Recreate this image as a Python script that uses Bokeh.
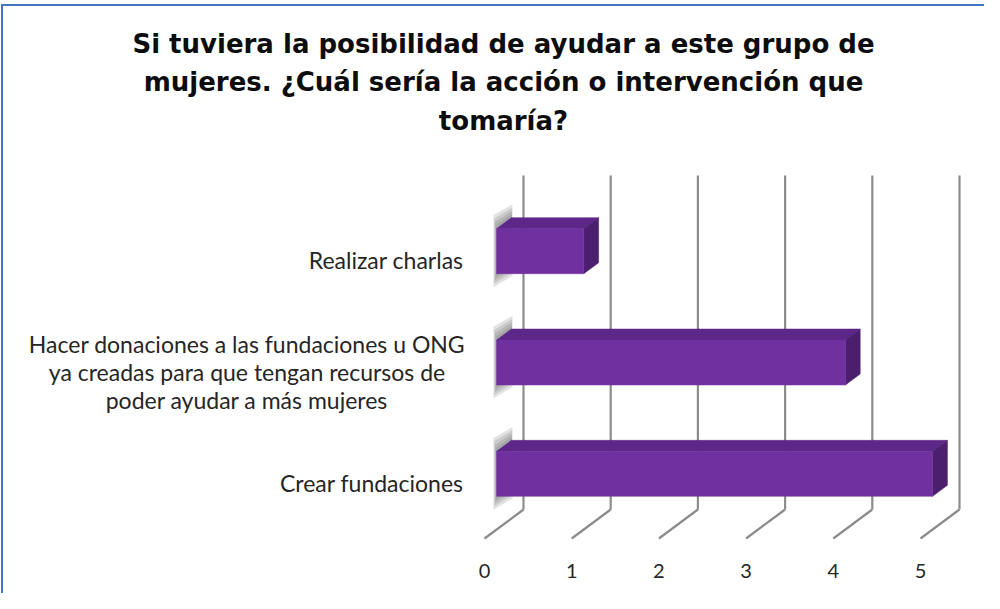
from bokeh.plotting import figure
from bokeh.models import Range1d, FixedTicker
from bokeh.core.properties import value
from bokeh.embed import file_html
from bokeh.resources import INLINE

# ---------------- data ----------------
title_lines = [
    "Si tuviera la posibilidad de ayudar a este grupo de",
    "mujeres. ¿Cuál sería la acción o intervención que",
    "tomaría?",
]
categories = [
    "Crear fundaciones",
    "Hacer donaciones a las fundaciones u ONG\nya creadas para que tengan recursos de\npoder ayudar a más mujeres",
    "Realizar charlas",
]
values = [5, 4, 1]
x_ticks = [0, 1, 2, 3, 4, 5]

# ---------------- layout (canvas pixels) ----------------
W, H = 984, 593
BOTTOM = 36
PX_X0 = 484.0      # canvas x of value 0 on the front plane
PX_UX = 87.2       # px per value unit
PX_Y0 = 538.0      # canvas y of the floor front edge
PX_UY = 111.33     # px per category slot
FRAME_H = H - BOTTOM


def X(px):
    return (px - PX_X0) / PX_UX


def Y(py):
    return (PX_Y0 - py) / PX_UY


DX = 39.0 / PX_UX          # depth offset (data units)
DY = 29.0 / PX_UY
F1, F2 = 0.31, 0.69        # bar front/back depth fractions
HALF = 0.202               # half bar thickness (category units)
n = len(categories)

p = figure(width=W, height=H,
           x_range=Range1d(X(0), X(W)), y_range=Range1d(Y(FRAME_H), Y(0)),
           output_backend="svg", toolbar_location=None,
           min_border_left=0, min_border_right=0, min_border_top=0,
           min_border_bottom=BOTTOM, y_axis_location=None)
p.xgrid.visible = False
p.ygrid.visible = False
p.outline_line_color = None
p.background_fill_color = None
p.border_fill_color = None
# chart border: left and top blue lines (right/bottom lie outside the window)
p.styles = {"background": "linear-gradient(#4472c4, #4472c4) 1px 4px / 2px 100% no-repeat, "
                          "linear-gradient(#4472c4, #4472c4) 1px 4px / 100% 2px no-repeat, #ffffff"}

ax = p.xaxis[0]
ax.ticker = FixedTicker(ticks=x_ticks)
ax.axis_line_color = None
ax.major_tick_line_color = None
ax.minor_tick_line_color = None
ax.major_tick_out = 0
ax.major_tick_in = 0
ax.major_label_standoff = 6
ax.major_label_text_font = "Lato"
ax.major_label_text_font_size = "20px"
ax.major_label_text_color = "#262626"

# back wall gridlines and floor lines
grid_color = "#8c8c8c"
p.segment(x0=[t + DX for t in x_ticks], y0=[DY] * len(x_ticks),
          x1=[t + DX for t in x_ticks], y1=[n + DY] * len(x_ticks),
          line_color=grid_color, line_width=2.2)
p.segment(x0=x_ticks, y0=[0] * len(x_ticks),
          x1=[t + DX for t in x_ticks], y1=[DY] * len(x_ticks),
          line_color=grid_color, line_width=2.2)

# soft shadows at the bar bases
for e in [0.12, 0.09, 0.06, 0.03]:
    sxs, sys = [], []
    for i, v in enumerate(values):
        c = i + 0.5
        xa = F1 * DX - e * 0.3
        xb = F2 * DX + e * 0.1
        sxs.append([xa, xa, xb, xb])
        sys.append([c - HALF + F1 * DY - e, c + HALF + F1 * DY + e,
                    c + HALF + F2 * DY + e, c - HALF + F2 * DY - e])
    p.patches(sxs, sys, fill_color="#5f5f5f", fill_alpha=0.18, line_color=None)

# bars
front_l, front_r, front_b, front_t = [], [], [], []
top_xs, top_ys, side_xs, side_ys = [], [], [], []
for i, v in enumerate(values):
    c = i + 0.5
    yb, yt = c - HALF, c + HALF
    front_l.append(F1 * DX)
    front_r.append(v + F1 * DX)
    front_b.append(yb + F1 * DY)
    front_t.append(yt + F1 * DY)
    top_xs.append([F1 * DX, v + F1 * DX, v + F2 * DX, F2 * DX])
    top_ys.append([yt + F1 * DY, yt + F1 * DY, yt + F2 * DY, yt + F2 * DY])
    side_xs.append([v + F1 * DX, v + F1 * DX, v + F2 * DX, v + F2 * DX])
    side_ys.append([yb + F1 * DY, yt + F1 * DY, yt + F2 * DY, yb + F2 * DY])

p.patches(top_xs, top_ys, fill_color="#5c2788", line_color="#5c2788", line_width=0.5)
p.patches(side_xs, side_ys, fill_color="#4b1f6e", line_color="#4b1f6e", line_width=0.5)
p.quad(left=front_l, right=front_r, bottom=front_b, top=front_t,
       fill_color="#7030a0", line_color="#7030a0", line_width=0.5)

# category labels (front plane)
single = [i for i, c in enumerate(categories) if "\n" not in c]
multi = [i for i, c in enumerate(categories) if "\n" in c]
p.text(x=[X(463)] * len(single), y=[i + 0.5 for i in single],
       text=[categories[i] for i in single],
       text_align="right", text_baseline="middle",
       text_font=value("Lato"), text_font_size="23px", text_color="#262626")
p.text(x=[X(463 - 433 / 2)] * len(multi), y=[i + 0.5 for i in multi],
       text=[categories[i] for i in multi],
       text_align="center", text_baseline="middle", text_line_height=1.0,
       text_font=value("Lato"), text_font_size="23px", text_color="#262626")

# title
p.text(x=[X(503)] * len(title_lines), y=[Y(43 + 38.5 * k) for k in range(len(title_lines))],
       text=title_lines, text_align="center", text_baseline="middle",
       text_font=value("DejaVu Sans"), text_font_style="bold",
       text_font_size="26px", text_color="#0d0d0d")

open("out.html", "w").write(file_html(p, INLINE))
